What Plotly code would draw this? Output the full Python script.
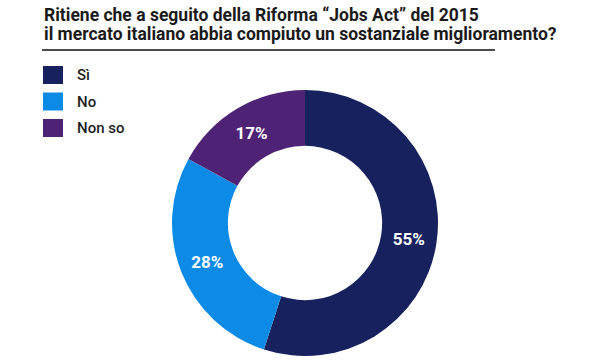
import plotly.graph_objects as go

categories = ["Sì", "No", "Non so"]
values = [55, 28, 17]
colors = ["#16215e", "#0c8be6", "#4e2275"]
title_lines = ["Ritiene che a seguito della Riforma “Jobs Act” del 2015",
               "il mercato italiano abbia compiuto un sostanziale miglioramento?"]

W, H = 600, 360
cx, cy, r = 305, 223, 133

fig = go.Figure(go.Pie(
    labels=categories, values=values, sort=False, direction="clockwise", rotation=0,
    hole=0.58, marker=dict(colors=colors, line=dict(width=0)),
    textinfo="percent", texttemplate="%{value}%", textposition="inside",
    insidetextorientation="horizontal",
    textfont=dict(family="Roboto", size=17, color="white", weight="bold"),
    domain=dict(x=[(cx - r) / W, (cx + r) / W], y=[(H - cy - r) / H, (H - cy + r) / H]),
    showlegend=False, hoverinfo="label+percent",
))

shapes = []
annotations = []
# title
for i, line in enumerate(title_lines):
    annotations.append(dict(
        text=f"<b>{line}</b>", x=42 / W, y=1 - (3 + i * 19) / H, xref="paper", yref="paper",
        xanchor="left", yanchor="top", showarrow=False,
        font=dict(family="Roboto", size=17.5, color="#1a1a1a")))
shapes.append(dict(type="line", xref="paper", yref="paper", x0=42 / W, x1=495 / W,
                   y0=1 - 50 / H, y1=1 - 50 / H, line=dict(color="#111111", width=1.5)))
# legend
for i, (cat, col) in enumerate(zip(categories, colors)):
    yc = 75 + i * 26.5
    shapes.append(dict(type="rect", xref="paper", yref="paper",
                       x0=43 / W, x1=63 / W, y0=1 - (yc - 9) / H, y1=1 - (yc + 9) / H,
                       fillcolor=col, line=dict(width=0)))
    annotations.append(dict(text=cat, x=75 / W, y=1 - yc / H, xref="paper", yref="paper",
                            xanchor="left", yanchor="middle", showarrow=False,
                            font=dict(family="Roboto", size=15, color="#1e1e1e", weight=500)))

fig.update_layout(width=W, height=H, margin=dict(l=0, r=0, t=0, b=0),
                  paper_bgcolor="white", plot_bgcolor="white",
                  shapes=shapes, annotations=annotations)
fig.write_html("out.html")
